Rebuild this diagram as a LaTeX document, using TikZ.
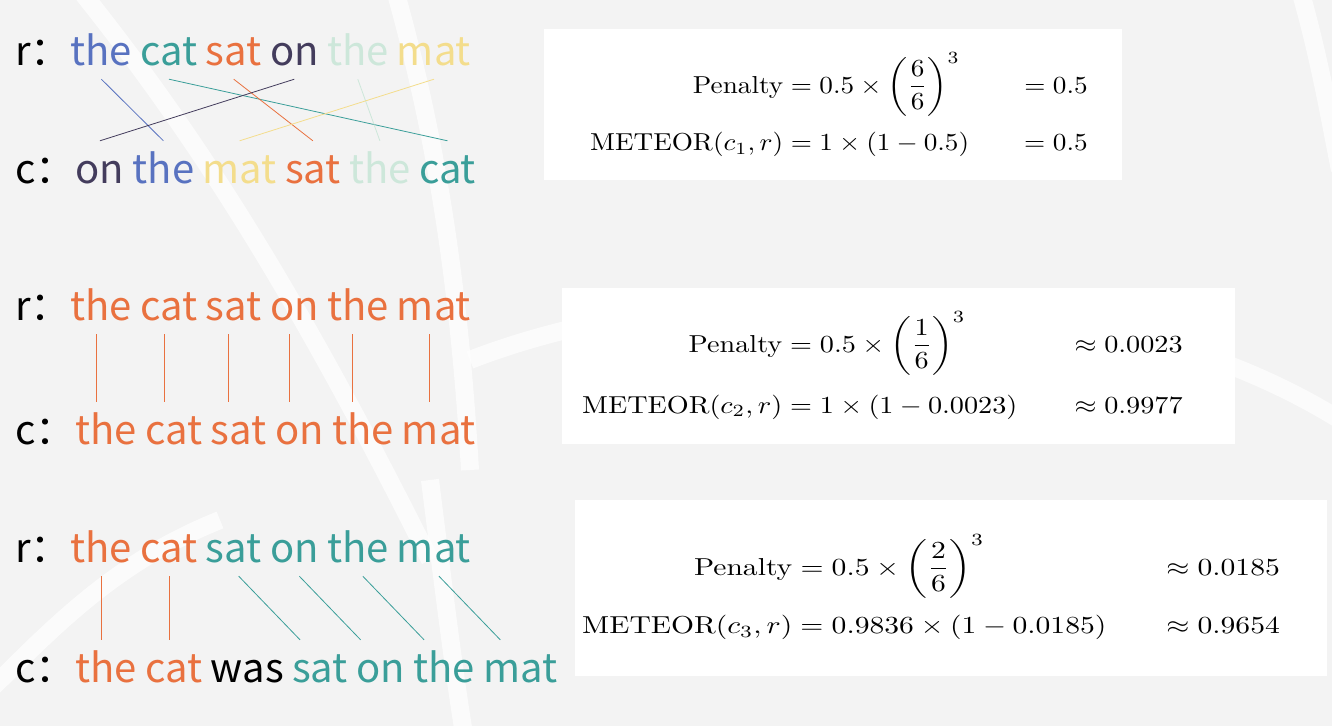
\documentclass[tikz,border=0pt]{standalone}
\usepackage{amsmath}
\usepackage{fontspec}
\usepackage{graphicx}
\usepackage{xcolor}
\usepackage{tikz}
\usetikzlibrary{positioning,calc}
\newfontfamily\wordfont{Noto Sans CJK SC}
\definecolor{wblue}{HTML}{5872C0}
\definecolor{wteal}{HTML}{3A9E99}
\definecolor{worange}{HTML}{E9713F}
\definecolor{wdark}{HTML}{433C5C}
\definecolor{wmint}{HTML}{CDE7DA}
\definecolor{wsand}{HTML}{F3DD8C}
\definecolor{bggray}{HTML}{F3F3F3}
\newcommand{\widemath}[2]{\scalebox{#1}[2.45]{#2}}

\begin{document}
\begin{tikzpicture}[
 x=1pt,y=-1pt,
 node distance=8pt,
 word/.style={font=\wordfont\fontsize{40}{48}\selectfont,inner sep=0pt,text height=42pt,text depth=14pt},
 rowlabel/.style={word,text width=#1,anchor=base west},
 rowlabel/.default=47pt,
 link/.style={line width=0.8pt},
 swoosh/.style={draw=white,line width=18pt,opacity=0.7},
 panel/.style={fill=white,inner sep=0pt,anchor=north west},
 formula/.style={inner sep=0pt,anchor=base west}
]
\useasboundingbox (0,0) rectangle (1332,726);
\fill[bggray] (0,0) rectangle (1332,726);
% background swooshes
\draw[swoosh] (80,-10) .. controls (200,140) and (300,300) .. (430,560);
\draw[swoosh] (395,-10) .. controls (440,150) and (460,300) .. (470,470);
\draw[swoosh] (470,360) .. controls (700,270) and (1100,270) .. (1340,420);
\draw[swoosh] (430,480) .. controls (445,600) and (455,680) .. (465,740);
\draw[swoosh] (-10,690) .. controls (60,620) and (120,560) .. (220,520);
\draw[swoosh] (1300,-10) .. controls (1320,60) and (1330,120) .. (1340,170);

% formula panels
\node[panel,minimum width=578pt,minimum height=151pt] (pa) at (544,29) {};
\node[panel,minimum width=673pt,minimum height=156pt] (pb) at (562,288) {};
\node[panel,minimum width=752pt,minimum height=176pt] (pc) at (575,500) {};

\node[formula] (fa) at (590,93) {\widemath{2.72}{$\begin{aligned}[t]
 \text{Penalty} &= 0.5\times\left(\frac{6}{6}\right)^{3} && \hspace{7.5pt}= 0.5\\[1.5pt]
 \text{METEOR}(c_1,r) &= 1\times(1-0.5) && \hspace{7.5pt}= 0.5
 \end{aligned}$}};
\node[formula] (fb) at (582,352) {\widemath{2.82}{$\begin{aligned}[t]
 \text{Penalty} &= 0.5\times\left(\frac{1}{6}\right)^{3} && \hspace{7.5pt}\approx 0.0023\\[3pt]
 \text{METEOR}(c_2,r) &= 1\times(1-0.0023) && \hspace{7.5pt}\approx 0.9977
 \end{aligned}$}};
\node[formula] (fc) at (582,575) {\widemath{2.96}{$\begin{aligned}[t]
 \text{Penalty} &= 0.5\times\left(\frac{2}{6}\right)^{3} && \hspace{7.5pt}\approx 0.0185\\[2pt]
 \text{METEOR}(c_3,r) &= 0.9836\times(1-0.0185) && \hspace{7.5pt}\approx 0.9654
 \end{aligned}$}};

% example 1: shuffled candidate
\node[rowlabel] (ra0) at (15,65) {r：};
\foreach \w/\c [count=\i,remember=\i as \j (initially 0)] in {the/wblue,cat/wteal,sat/worange,on/wdark,the/wmint,mat/wsand}
 \node[word,text=\c,base right=of ra\j] (ra\i) {\w};
\node[rowlabel=52pt] (ca0) at (15,183) {c：};
\foreach \w/\c [count=\i,remember=\i as \j (initially 0)] in {on/wdark,the/wblue,mat/wsand,sat/worange,the/wmint,cat/wteal}
 \node[word,text=\c,base right=of ca\j] (ca\i) {\w};
\foreach \a/\b/\c in {1/2/wblue,2/6/wteal,3/4/worange,4/1/wdark,5/5/wmint,6/3/wsand}
 \draw[link,\c] (ra\a.south) -- (ca\b.north);

% example 2: identical candidate
\node[rowlabel] (rb0) at (15,320) {r：};
\foreach \w [count=\i,remember=\i as \j (initially 0)] in {the,cat,sat,on,the,mat}
 \node[word,text=worange,base right=of rb\j] (rb\i) {\w};
\node[rowlabel=52pt] (cb0) at (15,444) {c：};
\foreach \w [count=\i,remember=\i as \j (initially 0)] in {the,cat,sat,on,the,mat}
 \node[word,text=worange,base right=of cb\j] (cb\i) {\w};
\foreach \i in {1,...,6}
 \draw[link,worange] ([xshift=-5pt]rb\i.south) -- ([xshift=-5pt]rb\i.south |- cb\i.north);

% example 3: inserted word
\node[rowlabel] (rc0) at (15,562) {r：};
\foreach \w/\c [count=\i,remember=\i as \j (initially 0)] in {the/worange,cat/worange,sat/wteal,on/wteal,the/wteal,mat/wteal}
 \node[word,text=\c,base right=of rc\j] (rc\i) {\w};
\node[rowlabel=52pt] (cc0) at (15,682) {c：};
\foreach \w/\c [count=\i,remember=\i as \j (initially 0)] in {the/worange,cat/worange,was/black,sat/wteal,on/wteal,the/wteal,mat/wteal}
 \node[word,text=\c,base right=of cc\j] (cc\i) {\w};
\foreach \i in {1,2}
 \draw[link,worange] (rc\i.south) -- (rc\i.south |- cc\i.north);
\foreach \a/\b in {3/4,4/5,5/6,6/7}
 \draw[link,wteal] ($(rc\a.south)+(5,0)$) -- ($(cc\b.north)+(-20,0)$);
\end{tikzpicture}
\end{document}
